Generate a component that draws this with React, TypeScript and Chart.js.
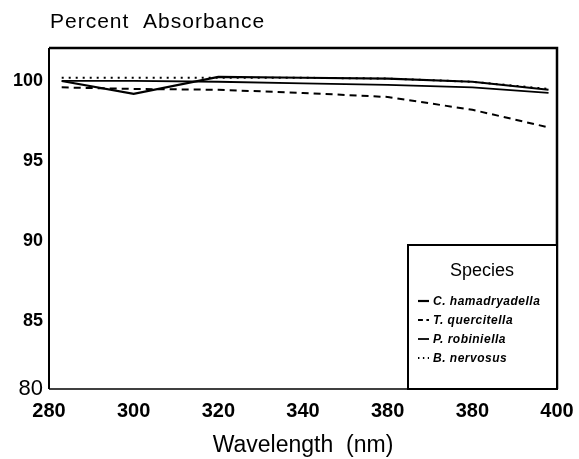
import React, { useEffect, useRef } from 'react';
import { Chart, registerables } from 'chart.js';

Chart.register(...registerables);

const wavelengths = [283, 300, 320, 340, 360, 380, 398];
const hamadryadella = [100.0, 99.2, 100.25, 100.2, 100.15, 99.95, 99.45];
const quercitella = [99.6, 99.5, 99.45, 99.25, 99.0, 98.2, 97.1];
const robiniella = [100.0, 100.0, 99.95, 99.85, 99.75, 99.6, 99.25];
const nervosus = [100.2, 100.2, 100.2, 100.2, 100.15, 99.95, 99.5];

const xTickValues = [280, 300, 320, 340, 360, 380, 400];
const xTickLabels = ['280', '300', '320', '340', '380', '380', '400'];
const yTickValues = [80.75, 85, 90, 95, 100];
const yTickLabels = ['80', '85', '90', '95', '100'];
const seriesNames = ['C. hamadryadella', 'T. quercitella', 'P. robiniella', 'B. nervosus'];

const FONT = '"Liberation Sans", Arial, sans-serif';

const framePlugin = {
  id: 'frame',
  afterDraw(chart: any) {
    const { ctx, chartArea: a } = chart;
    ctx.save();
    ctx.strokeStyle = '#000';
    ctx.lineCap = 'butt';
    ctx.lineWidth = 2.5;
    ctx.beginPath();
    ctx.moveTo(a.left, a.top);
    ctx.lineTo(a.right, a.top);
    ctx.lineTo(a.right, a.bottom);
    ctx.stroke();
    ctx.lineWidth = 2;
    ctx.beginPath();
    ctx.moveTo(a.left, a.top);
    ctx.lineTo(a.left, a.bottom);
    ctx.stroke();
    ctx.lineWidth = 1.5;
    ctx.beginPath();
    ctx.moveTo(a.left, a.bottom);
    ctx.lineTo(a.right, a.bottom);
    ctx.stroke();

    const bx = a.right - 149;
    const by = a.bottom - 144;
    ctx.fillStyle = '#fff';
    ctx.fillRect(bx, by, 149, 144);
    ctx.lineWidth = 2;
    ctx.strokeRect(bx, by, 149, 144);
    ctx.fillStyle = '#000';
    ctx.font = `18px ${FONT}`;
    ctx.textAlign = 'center';
    ctx.textBaseline = 'middle';
    ctx.fillText('Species', bx + 74, by + 26);
    ctx.textAlign = 'left';
    ctx.font = `italic bold 12px ${FONT}`;
    chart.data.datasets.forEach((ds: any, i: number) => {
      const y = by + 56 + i * 19;
      ctx.save();
      ctx.lineWidth = ds.borderWidth;
      const dash = ds.borderDash || [];
      ctx.setLineDash(dash.length ? [dash[0] * 0.7, dash[1] * 0.7] : []);
      ctx.beginPath();
      ctx.moveTo(bx + 10, y);
      ctx.lineTo(bx + 21, y);
      ctx.stroke();
      ctx.restore();
      ctx.save();
      (ctx as any).letterSpacing = '0.5px';
      ctx.fillText(ds.label, bx + 25, y + 1);
      ctx.restore();
    });

    ctx.save();
    ctx.font = `21px ${FONT}`;
    (ctx as any).letterSpacing = '1px';
    ctx.textAlign = 'left';
    ctx.textBaseline = 'middle';
    ctx.fillText('Percent  Absorbance', 50, 22);
    ctx.restore();
    ctx.restore();
  },
};

export default function App() {
  const ref = useRef<HTMLCanvasElement>(null);
  useEffect(() => {
    document.body.style.margin = '0';
    Chart.defaults.font.family = FONT;
    Chart.defaults.color = '#000';
    const mk = (d: number[]) => d.map((v, i) => ({ x: wavelengths[i], y: v }));
    const chart = new Chart(ref.current!, {
      type: 'line',
      data: {
        datasets: [
          { label: seriesNames[0], data: mk(hamadryadella), borderColor: '#000', borderWidth: 2.2, borderDash: [], pointRadius: 0, tension: 0 },
          { label: seriesNames[1], data: mk(quercitella), borderColor: '#000', borderWidth: 2, borderDash: [7, 5], pointRadius: 0, tension: 0 },
          { label: seriesNames[2], data: mk(robiniella), borderColor: '#000', borderWidth: 1.8, borderDash: [], pointRadius: 0, tension: 0 },
          { label: seriesNames[3], data: mk(nervosus), borderColor: '#000', borderWidth: 2, borderDash: [2, 5], pointRadius: 0, tension: 0 },
        ],
      },
      options: {
        animation: false,
        responsive: false,
        layout: { padding: { top: 48, right: 22, left: 0, bottom: 0 } },
        plugins: { legend: { display: false }, tooltip: { enabled: false }, title: { display: false } },
        scales: {
          x: {
            type: 'linear',
            min: 280,
            max: 400,
            afterBuildTicks: (s: any) => { s.ticks = xTickValues.map((v) => ({ value: v })); },
            afterFit: (s: any) => { s.height = 70; s.paddingLeft = 0; s.paddingRight = 0; },
            ticks: {
              callback: (_v: any, i: number) => xTickLabels[i],
              font: { size: 20, weight: 'bold' },
              color: '#000',
              padding: 10,
              maxRotation: 0,
              autoSkip: false,
            },
            grid: { display: false, drawTicks: false },
            border: { display: false },
            title: { display: true, text: 'Wavelength  (nm)', font: { size: 23 }, color: '#000', padding: 0 },
          },
          y: {
            type: 'linear',
            min: 80.75,
            max: 102.06,
            afterBuildTicks: (s: any) => { s.ticks = yTickValues.map((v) => ({ value: v })); },
            afterFit: (s: any) => { s.width = 49; s.paddingTop = 0; s.paddingBottom = 0; },
            ticks: {
              callback: (_v: any, i: number) => yTickLabels[i],
              font: (c: any) => (c.index === 0 ? { size: 22, weight: 'normal' } : { size: 18, weight: 'bold' }),
              color: '#000',
              padding: 6,
              autoSkip: false,
            },
            grid: { display: false, drawTicks: false },
            border: { display: false },
          },
        },
      },
      plugins: [framePlugin],
    } as any);
    return () => chart.destroy();
  }, []);
  return <canvas ref={ref} width={579} height={459} style={{ display: 'block' }} />;
}
